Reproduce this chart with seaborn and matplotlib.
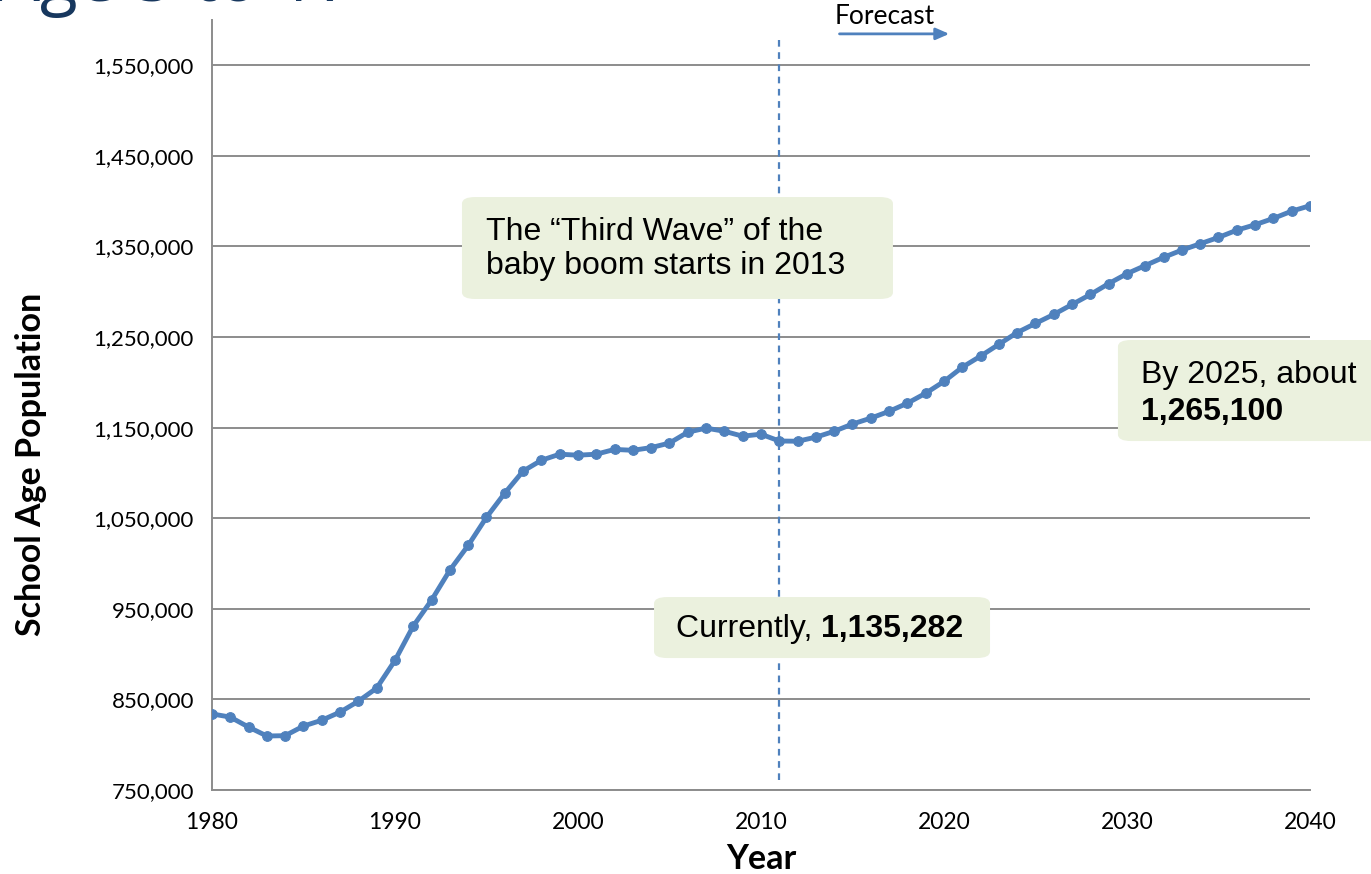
import numpy as np
import pandas as pd
import seaborn as sns
import matplotlib.pyplot as plt
from matplotlib.patches import FancyBboxPatch

# School age population, 1980-2040 (forecast after 2011)
years = list(range(1980, 2041))
population = [
    834000, 830500, 819500, 809600, 810000, 820600, 827000, 836000, 848000, 862500,
    893000, 931000, 959600, 992700, 1020000, 1051000, 1077700, 1102000, 1114000, 1120700,
    1119600, 1120700, 1126000, 1125000, 1128000, 1133000, 1145000, 1149500, 1146000, 1140600,
    1142800, 1135282, 1135000, 1139500, 1146000, 1154000, 1160500, 1168000, 1177000, 1188000,
    1201000, 1216700, 1229000, 1242000, 1255000, 1265100, 1275000, 1286000, 1297000, 1309000,
    1320000, 1329000, 1338000, 1346000, 1353000, 1360000, 1368000, 1374000, 1381000, 1389000,
    1395000,
]
current_year = 2011
y_ticks = list(range(750000, 1550001, 100000))
x_ticks = list(range(1980, 2041, 10))

data = pd.DataFrame({"Year": years, "Population": population})

sns.set_style("white")
plt.rcParams['font.family'] = ['Lato', 'DejaVu Sans']
plt.rcParams['text.color'] = 'black'
plt.rcParams['axes.labelcolor'] = 'black'

blue = "#4F81BD"
grid_grey = "#8C8C8C"
box_green = "#EBF1DE"

fig = plt.figure(figsize=(13.71, 8.74), dpi=100)
ax = fig.add_axes([0.1546, 0.0961, 0.8009, 0.881])

for v in y_ticks:
    ax.axhline(v, color=grid_grey, lw=1.4, zorder=0)

sns.lineplot(data=data, x="Year", y="Population", ax=ax, color=blue, lw=3.5,
             marker="o", markersize=7, markeredgecolor=blue, zorder=3)

ax.axvline(current_year, ymin=0.013, ymax=0.977, color=blue, lw=1.6,
           ls=(0, (3, 2.5)), zorder=2)

ax.set_xlim(1980, 2040)
ax.set_ylim(750000, 1600000)
ax.set_xticks(x_ticks)
ax.set_yticks(y_ticks)
ax.set_yticklabels([f"{v:,}" for v in y_ticks])
ax.tick_params(axis="both", labelsize=16.5, colors=grid_grey, labelcolor="black",
               length=6, width=1.4, direction="out")
ax.tick_params(axis="x", pad=10)
ax.tick_params(axis="y", labelsize=16, pad=7)
for side in ["top", "right"]:
    ax.spines[side].set_visible(False)
for side in ["left", "bottom"]:
    ax.spines[side].set_color(grid_grey)
    ax.spines[side].set_linewidth(1.4)

ax.set_xlabel("Year", fontsize=24.5, fontweight="bold")
ax.set_ylabel("School Age Population", fontsize=24.5, fontweight="bold")
ax.xaxis.label.set_va("center")
ax.yaxis.label.set_va("center")
ax.xaxis.set_label_coords(0.5, -0.0896)
ax.yaxis.set_label_coords(-0.1648, 0.423)

# cropped slide title
fig.text(-0.003, 1 - 1 / 874, "Age 5 to 17", fontsize=50, color="#17375E",
         family=["Open Sans", "DejaVu Sans"], va="baseline", ha="left")

# forecast marker
ax.text(0.567, 1.004, "Forecast", transform=ax.transAxes, fontsize=19,
        va="center", ha="left", clip_on=False)
ax.annotate("", xy=(0.674, 0.982), xytext=(0.569, 0.982), xycoords="axes fraction",
            arrowprops=dict(arrowstyle="-|>,head_length=0.8,head_width=0.35",
                            color=blue, lw=2), annotation_clip=False)

def callout(x0, y0, x1, y1):
    box = FancyBboxPatch((x0, y0), x1 - x0, y1 - y0, transform=ax.transAxes,
                         boxstyle="round,pad=0,rounding_size=0.012",
                         fc=box_green, ec="none", zorder=4, clip_on=False,
                         mutation_aspect=770 / 1098)
    ax.add_patch(box)

callout_font = ["Liberation Sans", "DejaVu Sans"]

callout(0.2277, 0.6377, 0.6202, 0.7701)
ax.text(0.2495, 0.703, "The \u201cThird Wave\u201d of the\nbaby boom starts in 2013",
        transform=ax.transAxes, fontsize=23, family=callout_font, va="center",
        ha="left", linespacing=1.18, zorder=5)

callout(0.4026, 0.1714, 0.7086, 0.2506)
t = ax.text(0.4226, 0.209, "Currently, ", transform=ax.transAxes, fontsize=23,
            family=callout_font, va="center", ha="left", zorder=5)
ax.annotate("1,135,282", xy=(1, 0), xycoords=t, xytext=(0, 0), textcoords="offset points",
            fontsize=23, family=callout_font, fontweight="bold", va="bottom", ha="left",
            zorder=5)

callout(0.8251, 0.4532, 1.07, 0.5844)
ax.text(0.8461, 0.539, "By 2025, about", transform=ax.transAxes, fontsize=23,
        family=callout_font, va="center", ha="left", zorder=5, clip_on=False)
ax.text(0.8461, 0.491, "1,265,100", transform=ax.transAxes, fontsize=23,
        family=callout_font, fontweight="bold", va="center", ha="left", zorder=5,
        clip_on=False)

fig.savefig("out.png", dpi=100)
